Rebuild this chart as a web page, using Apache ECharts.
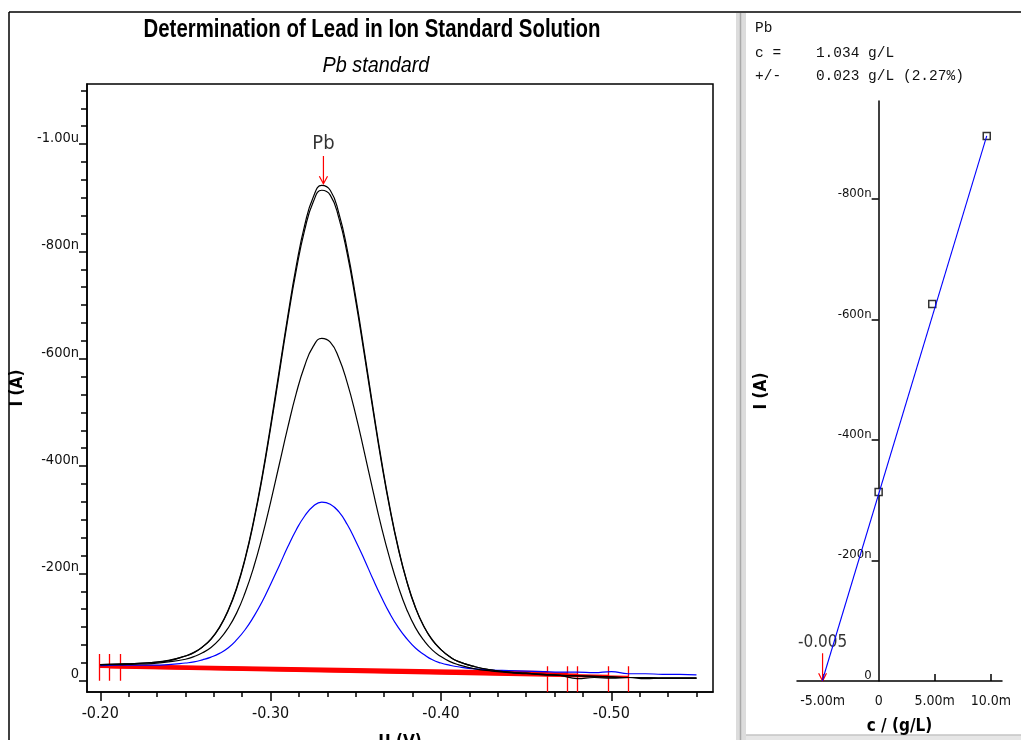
<!DOCTYPE html>
<html>
<head>
<meta charset="utf-8">
<script src="https://cdn.jsdelivr.net/npm/echarts@6/dist/echarts.min.js"></script>
<style>
html,body{margin:0;padding:0;background:#fff;}
#chart{width:1021px;height:740px;}
</style>
</head>
<body>
<div id="chart"></div>
<script>
// ---------------- data ----------------
const chartTitle = 'Determination of Lead in Ion Standard Solution';
const chartSubtitle = 'Pb standard';
// potentials (V)
const potentials = [-0.200,-0.210,-0.220,-0.230,-0.240,-0.250,-0.255,-0.260,-0.265,-0.270,-0.275,-0.280,-0.285,-0.290,-0.295,-0.300,-0.305,-0.310,-0.315,-0.320,-0.325,-0.330,-0.335,-0.340,-0.345,-0.350,-0.355,-0.360,-0.365,-0.370,-0.375,-0.380,-0.385,-0.390,-0.395,-0.400,-0.405,-0.410,-0.420,-0.430,-0.440,-0.450,-0.460,-0.470,-0.480,-0.490,-0.500,-0.510,-0.520,-0.530,-0.540,-0.550];
// currents (nA)
const sampleBlue = [-28,-29,-29,-29,-30,-33,-35,-39,-44,-51,-61,-76,-95,-119,-147,-180,-214,-249,-281,-307,-325,-333,-329,-315,-291,-260,-226,-190,-156,-125,-99,-78,-61,-49,-39,-33,-29,-26,-22,-20,-19,-18,-17,-16,-16,-15,-17,-13,-13,-12,-12,-11];
const addition1 = [-30,-30,-31,-32,-35,-40,-45,-52,-62,-77,-98,-126,-164,-211,-268,-333,-402,-471,-535,-587,-623,-638,-631,-602,-555,-495,-426,-355,-287,-227,-175,-132,-99,-75,-57,-45,-36,-30,-22,-18,-15,-13,-11,-10,-9,-8,-7,-6,-6,-5,-5,-5];
const addition2a = [-30,-31,-32,-34,-37,-46,-52,-63,-77,-99,-130,-171,-226,-295,-377,-471,-571,-672,-764,-840,-892,-914,-905,-863,-795,-707,-608,-506,-408,-320,-245,-184,-136,-101,-75,-58,-45,-36,-26,-20,-16,-14,-12,-10,-9,-8,-7,-6,-6,-5,-5,-5];
const addition2b = [-30,-31,-32,-34,-38,-46,-53,-63,-78,-100,-131,-173,-228,-298,-381,-476,-577,-678,-772,-849,-901,-923,-914,-872,-803,-714,-614,-511,-412,-323,-247,-185,-137,-101,-76,-58,-45,-36,-26,-20,-16,-14,-12,-10,-4,-6,-5,-6,-4,-5,-5,-5];

// baseline (red) segments: start/end potentials and currents
const baseStartU = [-0.1996,-0.2055,-0.2117,-0.1996,-0.2055];
const baseEndU   = [-0.4625,-0.4742,-0.4803,-0.4983,-0.5100];
const baseStartI = [-29,-28,-27,-26,-25];
const baseEndI   = [-16,-13,-11,-9,-7];
const leftMarkU  = [-0.1996,-0.2055,-0.2117];
const rightMarkU = [-0.4625,-0.4742,-0.4803,-0.4983,-0.5100];

// peak annotation
const peakName = 'Pb';
const peakU = -0.331;
const peakTop = -924;

// calibration (standard addition)
const stdConc = [0, 4.78, 9.64];        // m g/L
const stdPeak = [-314, -626, -905];     // nA
const fitConc = [-5.03, 9.64];
const fitPeak = [0, -905];
const resultX = -5.0;
const resultLabel = '-0.005';

// tick labels
const leftXMajor = [-0.2,-0.3,-0.4,-0.5];
const leftXLabels = ['-0.20','-0.30','-0.40','-0.50'];
const leftXMinor = [-0.2167,-0.2333,-0.25,-0.2667,-0.2833,-0.3167,-0.3333,-0.35,-0.3667,-0.3833,-0.4167,-0.4333,-0.45,-0.4667,-0.4833,-0.5167,-0.5333,-0.55];
const leftYMajor = [0,-200,-400,-600,-800,-1000];
const leftYLabels = ['0','-200n','-400n','-600n','-800n','-1.00u'];
const leftYMinor = [-33.3,-66.7,-100,-133.3,-166.7,-233.3,-266.7,-300,-333.3,-366.7,-433.3,-466.7,-500,-533.3,-566.7,-633.3,-666.7,-700,-733.3,-766.7,-833.3,-866.7,-900,-933.3,-966.7,-1033.3,-1066.7,-1100];
const rightXTicks = [-5,5,10];
const rightXMajor = [-5,0,5,10];
const rightXLabels = ['-5.00m','0','5.00m','10.0m'];
const rightYTicks = [-200,-400,-600,-800];
const rightYMajor = [0,-200,-400,-600,-800];
const rightYLabels = ['0','-200n','-400n','-600n','-800n'];

const resultLines = ['Pb','c =    1.034 g/L','+/-    0.023 g/L (2.27%)'];

// ---------------- chart ----------------
const NARROW = "'Liberation Sans Narrow','Arial Narrow','DejaVu Sans Condensed','Liberation Sans',sans-serif";
const MONO = "'Liberation Mono','DejaVu Sans Mono',monospace";
function lookup(vals, labels){
  return function(v){
    for (let i=0;i<vals.length;i++){ if (Math.abs(vals[i]-v) < 1e-6) return labels[i]; }
    return '';
  };
}
const pairs = (xs, ys) => xs.map((x,i)=>[x, ys[i]]);

const chart = echarts.init(document.getElementById('chart'), null, {renderer:'canvas'});

const baselineData = baseStartU.map((u,i)=>({coords:[[u, baseStartI[i]],[baseEndU[i], baseEndI[i]]]}));
const markerData = leftMarkU.map(u=>({coords:[[u,-50],[u,0]]}))
  .concat(rightMarkU.map(u=>({coords:[[u,-27],[u,21]]})));

const RX_MIN = -7.28, RX_MAX = 11.0, RGRID_LEFT = 797, RGRID_W = 205;
const rightYOffset = -(0 - RX_MIN) / (RX_MAX - RX_MIN) * RGRID_W;

const option = {
  animation:false,
  backgroundColor:'#fff',
  textStyle:{fontFamily:NARROW},
  title:[
    {text:resultLines[0], left:755, top:21, padding:0, textStyle:{fontFamily:MONO, fontSize:14.5, fontWeight:'normal', color:'#111'}},
    {text:resultLines[1], left:755, top:46, padding:0, textStyle:{fontFamily:MONO, fontSize:14.5, fontWeight:'normal', color:'#111'}},
    {text:resultLines[2], left:755, top:69, padding:0, textStyle:{fontFamily:MONO, fontSize:14.5, fontWeight:'normal', color:'#111'}}
  ],
  grid:[
    {left:87, top:84, width:626, height:608, show:true, borderColor:'#000', borderWidth:1.5, backgroundColor:'#fff', outerBoundsMode:'none', containLabel:false},
    {left:RGRID_LEFT, top:101, width:RGRID_W, height:580, show:false, outerBoundsMode:'none', containLabel:false}
  ],
  xAxis:[
    {type:'value', gridIndex:0, min:-0.5597, max:-0.1922, inverse:true, position:'bottom',
     axisLine:{show:true, onZero:false, lineStyle:{color:'#000', width:1.5}},
     axisTick:{show:true, inside:false, length:9, customValues:leftXMajor, lineStyle:{color:'#000', width:1.5}},
     axisLabel:{show:true, customValues:leftXMajor, formatter:lookup(leftXMajor,leftXLabels), margin:14, fontSize:16, color:'#111', fontFamily:NARROW},
     splitLine:{show:false},
     name:'U (V)', nameLocation:'middle', nameGap:42, nameTextStyle:{fontSize:17, fontWeight:'bold', color:'#000', fontFamily:NARROW}},
    {type:'value', gridIndex:0, min:-0.5597, max:-0.1922, inverse:true, position:'bottom',
     axisLine:{show:false, onZero:false},
     axisTick:{show:true, inside:false, length:5, customValues:leftXMinor, lineStyle:{color:'#000', width:1.5}},
     axisLabel:{show:false}, splitLine:{show:false}},
    {type:'value', gridIndex:1, min:RX_MIN, max:RX_MAX, position:'bottom',
     axisLine:{show:true, onZero:false, lineStyle:{color:'#000', width:1.5}},
     axisTick:{show:true, inside:true, length:7, customValues:rightXTicks, lineStyle:{color:'#000', width:1.5}},
     axisLabel:{show:true, customValues:rightXMajor, formatter:lookup(rightXMajor,rightXLabels), margin:13, fontSize:14, color:'#111', fontFamily:NARROW},
     splitLine:{show:false},
     name:'c / (g/L)', nameLocation:'middle', nameGap:37, nameTextStyle:{fontSize:17, fontWeight:'bold', color:'#000', fontFamily:NARROW}}
  ],
  yAxis:[
    {type:'value', gridIndex:0, min:-1112, max:21, inverse:true, position:'left',
     axisLine:{show:true, onZero:false, lineStyle:{color:'#000', width:1.5}},
     axisTick:{show:true, inside:false, length:8, customValues:leftYMajor, lineStyle:{color:'#000', width:1.5}},
     axisLabel:{show:true, customValues:leftYMajor, formatter:lookup(leftYMajor,leftYLabels), margin:8, fontSize:14.5, color:'#111', fontFamily:NARROW, verticalAlign:'bottom', lineHeight:12},
     splitLine:{show:false},
     name:'I (A)', nameLocation:'middle', nameGap:57, nameTextStyle:{fontSize:17, fontWeight:'bold', color:'#000', fontFamily:NARROW}},
    {type:'value', gridIndex:0, min:-1112, max:21, inverse:true, position:'left',
     axisLine:{show:false, onZero:false},
     axisTick:{show:true, inside:false, length:6, customValues:leftYMinor, lineStyle:{color:'#000', width:1.5}},
     axisLabel:{show:false}, splitLine:{show:false}},
    {type:'value', gridIndex:1, min:-963, max:0, inverse:true, position:'left', offset:rightYOffset,
     axisLine:{show:true, onZero:false, lineStyle:{color:'#000', width:1.5}},
     axisTick:{show:true, inside:false, length:7, customValues:rightYTicks, lineStyle:{color:'#000', width:1.5}},
     axisLabel:{show:true, customValues:rightYMajor, formatter:lookup(rightYMajor,rightYLabels), margin:7, fontSize:13, color:'#111', fontFamily:NARROW, verticalAlign:'bottom', lineHeight:11},
     splitLine:{show:false},
     name:'I (A)', nameLocation:'middle', nameGap:109, nameTextStyle:{fontSize:17, fontWeight:'bold', color:'#000', fontFamily:NARROW}}
  ],
  series:[
    {type:'line', name:'sample', xAxisIndex:0, yAxisIndex:0, data:pairs(potentials, sampleBlue), showSymbol:false, smooth:true,
     lineStyle:{color:'#0000ff', width:1.2}},
    {type:'line', name:'add1', xAxisIndex:0, yAxisIndex:0, data:pairs(potentials, addition1), showSymbol:false, smooth:true,
     lineStyle:{color:'#000', width:1.2}},
    {type:'line', name:'add2a', xAxisIndex:0, yAxisIndex:0, data:pairs(potentials, addition2a), showSymbol:false, smooth:true,
     lineStyle:{color:'#000', width:1.2}},
    {type:'line', name:'add2b', xAxisIndex:0, yAxisIndex:0, data:pairs(potentials, addition2b), showSymbol:false, smooth:true,
     lineStyle:{color:'#000', width:1.2}},
    {type:'lines', coordinateSystem:'cartesian2d', xAxisIndex:0, yAxisIndex:0, silent:true,
     data:baselineData, lineStyle:{color:'#ff0000', width:2.5, opacity:1}},
    {type:'lines', coordinateSystem:'cartesian2d', xAxisIndex:0, yAxisIndex:0, silent:true,
     data:markerData, lineStyle:{color:'#ff0000', width:1.3, opacity:1}},
    {type:'lines', coordinateSystem:'cartesian2d', xAxisIndex:0, yAxisIndex:0, silent:true, polyline:true,
     data:[{coords:[[peakU,-978],[peakU,peakTop-2]]},{coords:[[peakU+0.0024,peakTop-16],[peakU,peakTop-2],[peakU-0.0024,peakTop-16]]}],
     lineStyle:{color:'#ff0000', width:1.2, opacity:1}},
    {type:'scatter', xAxisIndex:0, yAxisIndex:0, symbolSize:0, silent:true,
     data:[[peakU,-978]],
     label:{show:true, position:'top', distance:2, formatter:peakName, fontSize:20, color:'#000', fontFamily:NARROW}},
    // calibration panel
    {type:'line', name:'fit', xAxisIndex:2, yAxisIndex:2, data:pairs(fitConc, fitPeak), showSymbol:false,
     lineStyle:{color:'#0000ff', width:1.1}},
    {type:'scatter', name:'standards', xAxisIndex:2, yAxisIndex:2, data:pairs(stdConc, stdPeak), symbol:'rect', symbolSize:7,
     itemStyle:{color:'#fff', borderColor:'#000', borderWidth:1.5}},
    {type:'lines', coordinateSystem:'cartesian2d', xAxisIndex:2, yAxisIndex:2, silent:true, polyline:true,
     data:[{coords:[[resultX,-46],[resultX,0]]},{coords:[[resultX-0.35,-13],[resultX,0],[resultX+0.35,-13]]}],
     lineStyle:{color:'#ff0000', width:1.2, opacity:1}},
    {type:'scatter', xAxisIndex:2, yAxisIndex:2, symbolSize:0, silent:true,
     data:[[resultX,-46]],
     label:{show:true, position:'top', distance:2, formatter:resultLabel, fontSize:17, color:'#000', fontFamily:NARROW}}
  ],
  graphic:[
    {type:'line', shape:{x1:9, y1:12, x2:1021, y2:12}, style:{stroke:'#000', lineWidth:1.5}, silent:true},
    {type:'line', shape:{x1:9, y1:12, x2:9, y2:740}, style:{stroke:'#000', lineWidth:1.5}, silent:true},
    {type:'rect', shape:{x:736, y:13, width:10, height:727}, style:{fill:'#dcdcdc'}, silent:true},
    {type:'line', shape:{x1:740.5, y1:13, x2:740.5, y2:740}, style:{stroke:'#a8a8a8', lineWidth:1.5}, silent:true},
    {type:'rect', shape:{x:746, y:735, width:275, height:5}, style:{fill:'#e6e6e6'}, silent:true},
    {type:'line', shape:{x1:746, y1:735, x2:1021, y2:735}, style:{stroke:'#c4c4c4', lineWidth:1.5}, silent:true},
    {type:'text', x:372, y:30, scaleX:0.785, silent:true,
     style:{text:chartTitle, fill:'#000', fontSize:26, fontWeight:'bold', fontFamily:"'Liberation Sans',Arial,sans-serif", align:'center', verticalAlign:'middle'}},
    {type:'text', x:376, y:66, scaleX:0.9, silent:true,
     style:{text:chartSubtitle, fill:'#000', fontSize:22, fontStyle:'italic', fontFamily:"'Liberation Sans',Arial,sans-serif", align:'center', verticalAlign:'middle'}}
  ]
};
chart.setOption(option);
</script>
</body>
</html>
